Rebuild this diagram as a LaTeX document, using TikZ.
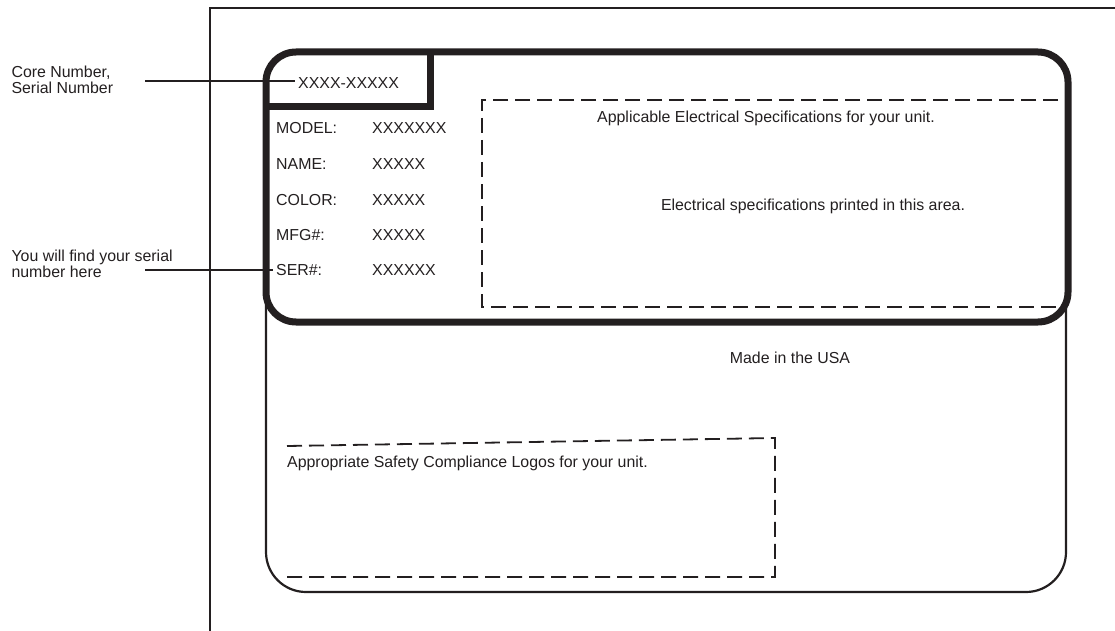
\documentclass[tikz,border=0pt]{standalone}
\usepackage{fontspec}
\setmainfont{Liberation Sans}
\usepackage{tikz}
\definecolor{ink}{RGB}{35,31,32}

\begin{document}
\begin{tikzpicture}[x=1pt, y=-1pt, color=ink,
        font=\fontsize{15.9}{16.5}\selectfont,
        thickline/.style={line width=7pt},
        thinline/.style={line width=2.2pt},
        frameline/.style={line width=2pt},
        dashline/.style={line width=1.8pt, dash pattern=on 15pt off 7pt},
        leader/.style={line width=1.8pt},
        lbl/.style={inner sep=3pt, anchor=base west}]
        \useasboundingbox (0,0) rectangle (1115,631);

        % Draw the outer frame
        \draw[frameline] (1115,8) -- (210,8) -- (210,631);

        % Lower part of the label
        \draw[thinline, rounded corners=40] (266,300) -- (266,592) -- (1066,592) -- (1066,300);

        % Upper part of the label with the core number box
        \draw[thickline, rounded corners=30] (266,52) rectangle (1068,322);
        \draw[thickline] (430,52) -- (430,107) -- (266,107);
        \node[lbl] (corenum) at (295,89) {XXXX-XXXXX};

        % Data rows
        \node[lbl] (model) at (273,134) {MODEL:};
        \node[lbl] at (369,134) {XXXXXXX};
        \node[lbl] (name) at (273,169.5) {NAME:};
        \node[lbl] at (369,169.5) {XXXXX};
        \node[lbl] (color) at (273,205) {COLOR:};
        \node[lbl] at (369,205) {XXXXX};
        \node[lbl] (mfg) at (273,240) {MFG\#:};
        \node[lbl] at (369,240) {XXXXX};
        \node[lbl] (ser) at (273,275.5) {SER\#:};
        \node[lbl] at (369,275.5) {XXXXXX};

        % Electrical specifications area
        \draw[dashline] (1058,100) -- (482,100) -- (482,307) -- (1058,307);
        \node[anchor=base] (spec) at (766,122.5) {Applicable Electrical Specifications for your unit.};
        \node[anchor=base] (specarea) at (813,210) {Electrical specifications printed in this area.};

        % Made in and safety logos area
        \node[anchor=base] (made) at (790,363) {Made in the USA};
        \draw[dashline] (287,446) -- (775,438) -- (775,577) -- (287,577);
        \node[lbl] (logos) at (284,467.5) {Appropriate Safety Compliance Logos for your unit.};

        % Callouts on the left
        \node[align=left, anchor=west] (core) at (8,80) {Core Number,\\Serial Number};
        \node[align=left, anchor=west] (serial) at (8,264) {You will find your serial\\number here};
        \coordinate (coreL) at (145,81);
        \coordinate (serialL) at (145,270);
        \draw[leader] (coreL) -- (coreL -| corenum.west);
        \draw[leader] (serialL) -- (serialL -| ser.west);
\end{tikzpicture}
\end{document}
